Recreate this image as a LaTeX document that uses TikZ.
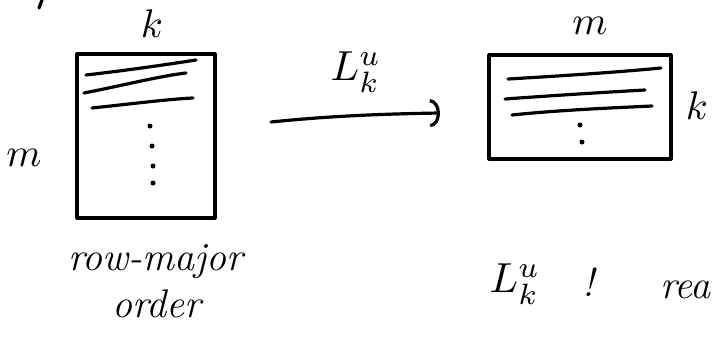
\documentclass[tikz,border=0pt]{standalone}
\usepackage{fontspec}
\usetikzlibrary{arrows.meta}
\newcommand{\myhugemath}[2]{\scalebox{#1}{$#2$}}
\begin{document}
\begin{tikzpicture}[x=1pt,y=-1pt,
  pen/.style={line width=3.2pt,line cap=round,line join=round,black},
  box/.style={pen,draw,rectangle,inner sep=0pt},
  hand/.style={font=\fontsize{40}{44}\selectfont\itshape,inner sep=0pt},
  dot/.style={circle,fill=black,inner sep=0pt,minimum size=5pt}]
\useasboundingbox (0,0) rectangle (712,337);
% stray mark top-left
\draw[pen] (42,0) -- (39,8);
% left matrix
\node[box,minimum width=138pt,minimum height=164pt] (lbox) at (146,136) {};
\draw[pen] (86,75) .. controls (130,70) and (170,64) .. (196,60);
\draw[pen] (84,93) .. controls (120,86) and (160,76) .. (186,73);
\draw[pen] (92,108) .. controls (130,104) and (170,99) .. (193,98);
\node[dot] (ld1) at (150,126) {};
\node[dot] (ld2) at (152,146) {};
\node[dot] (ld3) at (153,166) {};
\node[dot] (ld4) at (153,183) {};
\node[inner sep=0pt] (lk) at (152,24) {\myhugemath{4}{k}};
\node[inner sep=0pt] (lm) at (24,158) {\myhugemath{4}{m}};
\node[hand,anchor=west] (row) at (68,262) {row-major};
\node[hand,anchor=west] (ord) at (112,304) {order};
% arrow
\coordinate (a1) at (271,122);
\coordinate (a2) at (440,113);
\draw[pen,-{Arc Barb[length=10pt,width=28pt,line width=3.2pt]}] (a1) .. controls (330,116) and (380,114) .. (a2);
\node[inner sep=0pt] (lab) at (356,72) {\myhugemath{4.2}{L^{u}_{k}}};
% right matrix
\node[box,minimum width=182pt,minimum height=104pt] (rbox) at (580,107) {};
\draw[pen] (508,79) .. controls (560,76) and (620,72) .. (661,68);
\draw[pen] (505,99) .. controls (560,95) and (610,92) .. (645,90);
\draw[pen] (512,115) .. controls (560,110) and (610,108) .. (652,106);
\node[dot] (rd1) at (580,125) {};
\node[dot] (rd2) at (582,142) {};
\node[inner sep=0pt] (rm) at (590,26) {\myhugemath{4}{m}};
\node[inner sep=0pt] (rk) at (697,106) {\myhugemath{4}{k}};
% bottom note
\node[inner sep=0pt] (bl) at (515,284) {\myhugemath{4.2}{L^{u}_{k}}};
\node[hand] (bang) at (588,282) {!};
\node[hand,anchor=east] (rea) at (711,290) {rea};
\end{tikzpicture}
\end{document}
